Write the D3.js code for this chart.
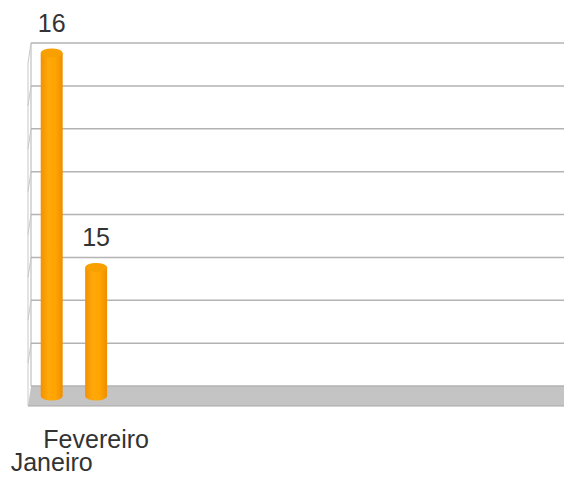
<!DOCTYPE html>
<html>
<head>
  <meta charset="utf-8">
  <title>Cylinder Chart</title>
  <style>
   html, body { margin: 0; padding: 0; background: #fff; }
   text { font-family: "Liberation Sans", Arial, sans-serif; fill: #333; }
  </style>
</head>
<body>
  <div id="chart"></div>
  <script src="https://d3js.org/d3.v7.min.js"></script>
  <script>
// data
var categories = ["Janeiro", "Fevereiro"];
var values = [16, 15];
var slotCount = 12;              // category slots on the x axis
var yMin = 14.4, yMax = 16, yStep = 0.2;

var width = 564, height = 484;
var depthX = -3, depthY = 20;    // back -> front offset of the 3D floor

var svg = d3.select("#chart").append("svg")
  .attr("width", width)
  .attr("height", height);

var defs = svg.append("defs");
var grad = defs.append("linearGradient").attr("id", "cyl")
  .attr("x1", "0%").attr("x2", "100%").attr("y1", "0%").attr("y2", "0%");
grad.append("stop").attr("offset", "0%").attr("stop-color", "#f29100");
grad.append("stop").attr("offset", "35%").attr("stop-color", "#ffa80a");
grad.append("stop").attr("offset", "65%").attr("stop-color", "#ffa500");
grad.append("stop").attr("offset", "100%").attr("stop-color", "#ee8f00");

// scales (mid-depth plane)
var x = d3.scaleBand()
  .domain(d3.range(slotCount))
  .range([31, width])
  .padding(0);

var y = d3.scaleLinear()
  .domain([yMin, yMax])
  .range([396, 53]);

var ticks = d3.range(yMin, yMax + yStep / 2, yStep);

var backY = function(v) { return y(v) - depthY / 2; };
var left = x.range()[0];

// left wall
svg.append("path")
  .attr("d", "M" + left + "," + backY(yMax) + "L" + left + "," + backY(yMin))
  .attr("stroke", "#b3b3b3").attr("fill", "none");
svg.append("path")
  .attr("d", "M" + left + "," + backY(yMax) + "L" + (left + depthX) + "," + (backY(yMax) + depthY) +
             "L" + (left + depthX) + "," + (backY(yMin) + depthY))
  .attr("stroke", "#c8c8c8").attr("fill", "none");
svg.selectAll(".wallgrid")
  .data(ticks.slice(1, -1))
  .enter().append("line")
  .attr("x1", left).attr("y1", function(d) { return backY(d); })
  .attr("x2", left + depthX).attr("y2", function(d) { return backY(d) + depthY; })
  .attr("stroke", "#c8c8c8");

// floor
svg.append("path")
  .attr("d", "M" + left + "," + backY(yMin) + "L" + width + "," + backY(yMin) +
             "L" + width + "," + (backY(yMin) + depthY) + "L" + (left + depthX) + "," + (backY(yMin) + depthY) + "Z")
  .attr("fill", "#c4c4c4");
svg.append("line")
  .attr("x1", left + depthX).attr("x2", width)
  .attr("y1", backY(yMin) + depthY).attr("y2", backY(yMin) + depthY)
  .attr("stroke", "#a8a8a8");

// back wall gridlines
svg.selectAll(".grid")
  .data(ticks)
  .enter().append("line")
  .attr("x1", left).attr("x2", width)
  .attr("y1", function(d) { return backY(d); })
  .attr("y2", function(d) { return backY(d); })
  .attr("stroke", "#b3b3b3")
  .attr("stroke-width", 1.5);

// cylinders
var bw = 22, ry = 4.5;
var bars = svg.selectAll(".bar")
  .data(values)
  .enter().append("g")
  .attr("transform", function(d, i) {
    return "translate(" + (x(i) + x.bandwidth() / 2 + depthX / 2) + ",0)";
  });

bars.append("path")
  .attr("d", function(d) {
    var top = y(d), bot = y(yMin);
    return "M" + (-bw / 2) + "," + top + "L" + (-bw / 2) + "," + bot +
           "A" + (bw / 2) + "," + ry + " 0 0 0 " + (bw / 2) + "," + bot +
           "L" + (bw / 2) + "," + top + "Z";
  })
  .attr("fill", "url(#cyl)");

bars.append("ellipse")
  .attr("cx", 0).attr("cy", function(d) { return y(d); })
  .attr("rx", bw / 2).attr("ry", ry)
  .attr("fill", "#f7a000");

// value labels
bars.append("text")
  .attr("x", 0)
  .attr("y", function(d) { return y(d) - 21; })
  .attr("text-anchor", "middle")
  .style("font-size", "25px")
  .text(function(d) { return d; });

// category labels, staggered
svg.selectAll(".cat")
  .data(categories)
  .enter().append("text")
  .attr("x", function(d, i) { return x(i) + x.bandwidth() / 2 + depthX / 2; })
  .attr("y", function(d, i) { return i % 2 === 0 ? 471 : 448; })
  .attr("text-anchor", "middle")
  .style("font-size", "25px")
  .text(function(d) { return d; });
  </script>
</body>
</html>
